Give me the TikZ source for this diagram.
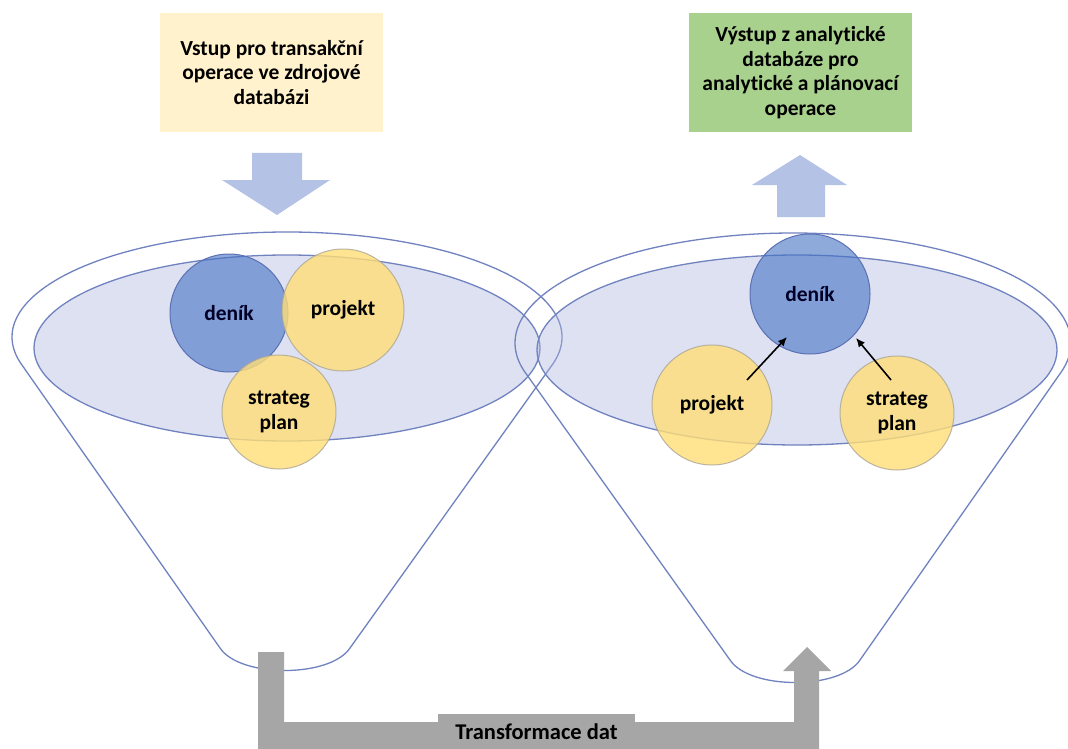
\documentclass[tikz,border=0pt]{standalone}
\usepackage{fontspec}
\setmainfont{Carlito}[Ligatures=NoCommon]
\usetikzlibrary{arrows.meta,calc}
\definecolor{cream}{RGB}{255,242,204}
\definecolor{greenbox}{RGB}{169,209,142}
\definecolor{arrowblue}{RGB}{180,194,230}
\definecolor{funnelline}{RGB}{112,130,192}
\definecolor{innerfill}{RGB}{172,182,222}
\definecolor{yellowc}{RGB}{255,222,118}
\definecolor{bluec}{RGB}{68,114,196}
\definecolor{bluecline}{RGB}{90,112,180}
\definecolor{grayarrow}{RGB}{166,166,166}
\definecolor{ycline}{RGB}{170,165,150}
\begin{document}
\begin{tikzpicture}[x=1pt,y=-1pt,
  txt/.style={font=\bfseries\fontsize{21.5}{24.5}\selectfont, text=black},
  box/.style={txt, minimum width=223pt, minimum height=119pt, align=center, inner sep=0pt},
  funnel/.style={draw=funnelline, line width=1.3pt},
  innerell/.style={funnel, fill=innerfill, fill opacity=0.4},
  ycirc/.style={circle, inner sep=0pt, fill=yellowc, fill opacity=0.8, draw=ycline, draw opacity=0.8, line width=1pt, text opacity=1, txt, align=center},
  bcirc/.style={circle, inner sep=0pt, fill=bluec, fill opacity=0.6, draw=bluecline, line width=1pt, text opacity=1, txt, text=black!85!blue},
  blockarrow/.style={fill=arrowblue},
  conn/.style={-{Latex[length=9pt,width=8pt]}, line width=1.6pt, black}
]
\useasboundingbox (0,0) rectangle (1068,749);
\fill[white] (0,0) rectangle (1068,749);

% left funnel
\draw[funnel] (21.4,364.2) arc[start angle=165, end angle=375, x radius=275, y radius=105]
  -- (350,648) .. controls (330,678) and (240,678) .. (220,648) -- cycle;
\draw[innerell] (287,348) ellipse[x radius=253, y radius=93];

% right funnel
\draw[funnel] (524.5,371.5) arc[start angle=165, end angle=375, x radius=278, y radius=110]
  -- (860,660) .. controls (840,690) and (750,690) .. (730,660) -- cycle;
\draw[innerell] (797,350) ellipse[x radius=260, y radius=95];

% left circles
\node[bcirc, minimum size=118pt] (lden) at (229,313) {deník};
\node[ycirc, minimum size=122pt] (lproj) at (343,310) {projekt};
\node[ycirc, minimum size=114pt] (lstrat) at (279,412) {strateg\\plan};

% right circles
\node[bcirc, minimum size=120pt] (rden) at (810,294) {deník};
\node[ycirc, minimum size=120pt] (rproj) at (712,405) {projekt};
\node[ycirc, minimum size=114pt] (rstrat) at (897,413) {strateg\\plan};

\draw[conn] ([shift={(35,-25)}]rproj.center) -- ([shift={(-23,43)}]rden.center);
\draw[conn] ([shift={(-6,-33)}]rstrat.center) -- ([shift={(46,44)}]rden.center);

% boxes
\node[box, fill=cream] (inbox) at (271.5,72.5) {Vstup pro transakční\\operace ve zdrojové\\databázi};
\node[box, fill=greenbox] (outbox) at (800.5,72.5) {Výstup z analytické\\databáze pro\\analytické a plánovací\\operace};

% block arrows
\fill[blockarrow] (252,153) -- (302,153) -- (302,180) -- (330,180) -- (277,215) -- (222,180) -- (252,180) -- cycle;
\fill[blockarrow] (777,217) -- (825,217) -- (825,185) -- (847,185) -- (800,155) -- (752,185) -- (777,185) -- cycle;

% gray transformation arrow
\coordinate (g1) at (258,652);
\coordinate (g2) at (284,652);
\coordinate (g3) at (284,722);
\coordinate (g4) at (794,722);
\coordinate (g5) at (794,671);
\coordinate (g6) at (783,671);
\coordinate (g7) at (807,647);
\coordinate (g8) at (831,671);
\coordinate (g9) at (819,671);
\coordinate (g10) at (819,749);
\coordinate (g11) at (258,749);
\fill[grayarrow] (g1) -- (g2) -- (g3) -- (g4) -- (g5) -- (g6) -- (g7) -- (g8) -- (g9) -- (g10) -- (g11) -- cycle;
\node[txt, font=\bfseries\fontsize{22.5}{26}\selectfont, fill=grayarrow, minimum width=197pt, minimum height=36pt, inner sep=0pt] (tlabel) at (536.5,731.5) {Transformace dat};
\end{tikzpicture}
\end{document}
